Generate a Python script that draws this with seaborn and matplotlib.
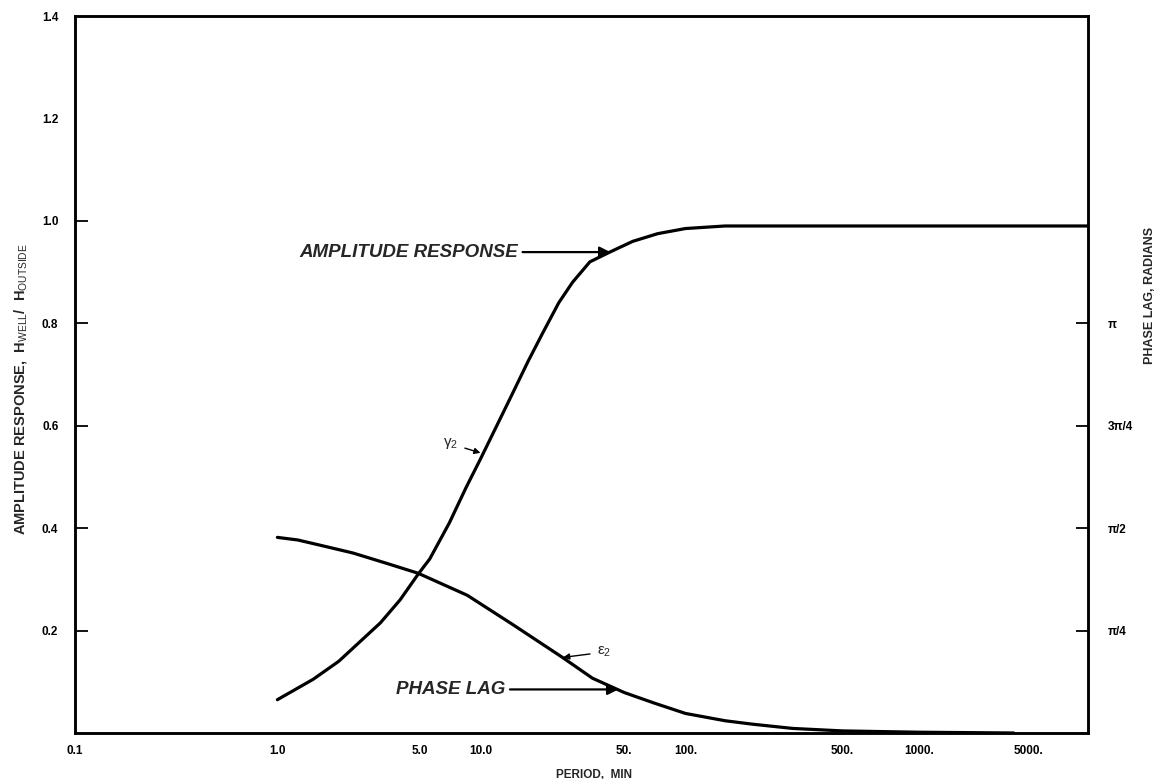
import numpy as np
import pandas as pd
import matplotlib
matplotlib.use("Agg")
import matplotlib.pyplot as plt
import seaborn as sns

# amplitude response H_well / H_outside against period (min)
amp_period = [1.0, 1.5, 2.0, 3.2, 4.0, 4.9, 5.6, 7.0, 8.5, 10, 12, 14, 17, 20,
              24, 28, 34, 43, 55, 73, 100, 150, 300, 1000, 3000, 8000]
amp_value = [0.065, 0.105, 0.14, 0.215, 0.26, 0.31, 0.34, 0.41, 0.48, 0.535,
             0.60, 0.655, 0.725, 0.78, 0.84, 0.88, 0.92, 0.94, 0.96, 0.975,
             0.985, 0.99, 0.99, 0.99, 0.99, 0.99]

# phase lag (radians) against period (min)
phase_period = [1.0, 1.26, 1.62, 2.35, 3.45, 4.9, 8.6, 14.4, 25, 35, 50, 70,
                100, 150, 200, 300, 500, 1000, 4000]
phase_rad = [1.50, 1.48, 1.44, 1.38, 1.30, 1.225, 1.056, 0.83, 0.58, 0.42,
             0.31, 0.23, 0.15, 0.094, 0.067, 0.035, 0.016, 0.006, 0.0]

x_ticks = [0.1, 1, 5, 10, 50, 100, 500, 1000, 5000]
x_tick_labels = ["0.1", "1.0", "5.0", "10.0", "50.", "100.", "500.", "1000.", "5000."]
y_ticks = [0.2, 0.4, 0.6, 0.8, 1.0, 1.2, 1.4]
y_tick_labels = ["0.2", "0.4", "0.6", "0.8", "1.0", "1.2", "1.4"]
phase_ticks = [np.pi / 4, np.pi / 2, 3 * np.pi / 4, np.pi]
phase_tick_labels = ["\u03c0/4", "\u03c0/2", "3\u03c0/4", "\u03c0"]

amp = pd.DataFrame({"period": amp_period, "amplitude": amp_value})
phase = pd.DataFrame({"period": phase_period, "phase": phase_rad})

# the drafted period axis is not a clean log axis: piecewise map of log10(period)
axis_log = np.log10([0.1, 1, 5, 10, 50, 100, 500, 1000, 5000, 8000])
axis_pos = np.array([75.4, 277.5, 419.8, 480.3, 624, 685, 842, 918.5, 1028, 1087])


def fwd(x):
    x = np.clip(np.asarray(x, dtype=float), 1e-6, None)
    return np.interp(np.log10(x), axis_log, axis_pos)


def inv(p):
    return 10 ** np.interp(np.asarray(p, dtype=float), axis_pos, axis_log)


sns.set_style("white")
plt.rcParams["font.family"] = ["Liberation Sans", "DejaVu Sans"]
plt.rcParams["mathtext.fontset"] = "custom"
plt.rcParams["mathtext.rm"] = "Liberation Sans"
plt.rcParams["mathtext.it"] = "Liberation Sans:italic"
plt.rcParams["mathtext.bf"] = "Liberation Sans:bold"

fig = plt.figure(figsize=(11.6, 7.79), dpi=100)
ax = fig.add_axes([75 / 1160, 1 - 733 / 779, (1088 - 75) / 1160, (733 - 16) / 779])
ax.set_xscale("function", functions=(fwd, inv))
ax2 = ax.twinx()

sns.lineplot(data=amp, x="period", y="amplitude", ax=ax, color="black", lw=2.3)
sns.lineplot(data=phase, x="period", y="phase", ax=ax2, color="black", lw=2.3)

ax.set_xlim(0.1, 8000)
ax.set_ylim(0, 1.4)
ax2.set_ylim(0, 1.75 * np.pi)

ax.set_xticks(x_ticks)
ax.set_xticklabels(x_tick_labels)
ax.xaxis.set_minor_locator(matplotlib.ticker.NullLocator())
ax.set_yticks(y_ticks)
ax.set_yticklabels(y_tick_labels)
ax2.set_yticks(phase_ticks)
ax2.set_yticklabels(phase_tick_labels)

for a in (ax, ax2):
    for s in a.spines.values():
        s.set_linewidth(1.8)
        s.set_color("black")
ax.tick_params(axis="both", direction="in", length=9, width=1.3, labelsize=8.5,
               colors="black")
ax.tick_params(axis="x", pad=9)
ax.tick_params(axis="y", pad=12)
ax2.tick_params(axis="y", direction="in", length=9, width=1.3, labelsize=8.5,
                pad=14, colors="black")
for lab in ax.get_xticklabels() + ax.get_yticklabels() + ax2.get_yticklabels():
    lab.set_fontweight("bold")
# no tick marks drawn at 1.2 and 1.4 on the original
for t in ax.yaxis.get_major_ticks()[5:]:
    t.tick1line.set_visible(False)

ax.set_xlabel("PERIOD,  MIN", fontsize=8.5, fontweight="bold")
ax.xaxis.set_label_coords(0.512, -0.05)
ax.set_ylabel(r"AMPLITUDE RESPONSE,  H$_{\mathrm{WELL}}$/  H$_{\mathrm{OUTSIDE}}$",
              fontsize=10.5, fontweight="bold")
ax.yaxis.set_label_coords(-0.045, 0.48)
ax2.set_ylabel("PHASE LAG, RADIANS", fontsize=9, fontweight="bold")
ax2.yaxis.set_label_coords(1.055, 0.61)

arrow_big = dict(arrowstyle="-|>", color="black", lw=1.6, mutation_scale=16,
                 shrinkA=1, shrinkB=0)
ax.annotate("AMPLITUDE RESPONSE", xy=(42.8, 0.939), xytext=(15.2, 0.939),
            ha="right", va="center", fontsize=13.5, fontstyle="italic",
            fontweight="bold", arrowprops=arrow_big)
ax2.annotate("PHASE LAG", xy=(46.8, 0.334), xytext=(13.2, 0.334),
             ha="right", va="center", fontsize=13.5, fontstyle="italic",
             fontweight="bold", arrowprops=arrow_big)

arrow_small = dict(arrowstyle="-|>", color="black", lw=1.0, mutation_scale=9,
                   shrinkA=3, shrinkB=0)
ax.annotate(r"$\mathrm{\gamma}_2$", xy=(10, 0.547), xytext=(7.7, 0.565),
            ha="right", va="center", fontsize=11, arrowprops=arrow_small)
ax2.annotate(r"$\mathrm{\epsilon}_2$", xy=(25.2, 0.58), xytext=(37, 0.62),
             ha="left", va="center", fontsize=11, arrowprops=arrow_small)

fig.savefig("out.png", dpi=100)
